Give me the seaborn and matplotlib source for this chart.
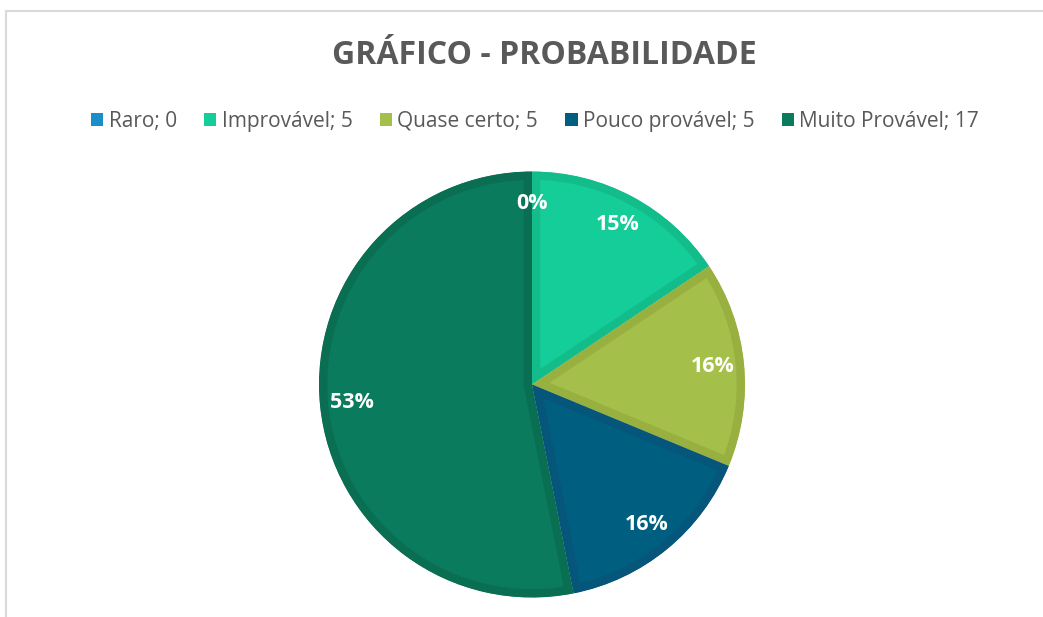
import matplotlib
matplotlib.use("Agg")
import matplotlib.pyplot as plt
import seaborn as sns
from matplotlib.patches import Patch
from matplotlib.lines import Line2D

categories = ["Raro", "Improvável", "Quase certo", "Pouco provável", "Muito Provável"]
values = [0, 5, 5, 5, 17]
pct_labels = ["0%", "15%", "16%", "16%", "53%"]
fill_colors = ["#1A8DCB", "#15CD98", "#A5C04A", "#005E80", "#0B7B5D"]
edge_colors = ["#177FB8", "#12BD8B", "#97B03F", "#06557A", "#0A6E53"]
title = "GRÁFICO - PROBABILIDADE"

sns.set_theme(style="white")
plt.rcParams["font.family"] = ["Open Sans", "DejaVu Sans"]

W, H = 1043, 617
fig = plt.figure(figsize=(W / 100, H / 100), dpi=100)
fig.patch.set_facecolor("white")

cx, cy, r = 532, 384.5, 213
ax = fig.add_axes([(cx - r) / W, (H - cy - r) / H, 2 * r / W, 2 * r / H])

wedges, texts, autotexts = ax.pie(
    values,
    colors=fill_colors,
    startangle=90,
    counterclock=False,
    radius=1.0,
    labels=None,
    autopct=lambda p: "",
    pctdistance=0.85,
    wedgeprops=dict(linewidth=12),
)
for w, ec in zip(wedges, edge_colors):
    w.set_edgecolor(ec)
    w.set_clip_on(True)
    w.set_clip_path(w.get_path(), w.get_transform())
for t, lab in zip(autotexts, pct_labels):
    t.set_text(lab)
    t.set_color("white")
    t.set_fontweight("bold")
    t.set_fontsize(15.5)
    t.set_ha("center")
    t.set_va("center")
ax.set_xlim(-1, 1)
ax.set_ylim(-1, 1)
ax.axis("off")

fig.text(544 / W, 1 - 56 / H, title, ha="center", va="center",
         fontsize=23, fontweight="bold", color="#595959")

handles = [Patch(facecolor=c, edgecolor="none") for c in fill_colors]
leg_labels = [f"{c}; {v}" for c, v in zip(categories, values)]
fig.legend(handles, leg_labels, loc="center", bbox_to_anchor=(535 / W, 1 - 121 / H),
           ncol=5, frameon=False, fontsize=15, labelcolor="#595959",
           handlelength=0.6, handleheight=0.6, handletextpad=0.25,
           columnspacing=1.3)

fig.add_artist(Line2D([5.5 / W, 1.0], [1 - 10.5 / H, 1 - 10.5 / H],
                      transform=fig.transFigure, color="#D9D9D9", linewidth=1.5))
fig.add_artist(Line2D([5.5 / W, 5.5 / W], [1 - 10.5 / H, 0.0],
                      transform=fig.transFigure, color="#D9D9D9", linewidth=1.5))

fig.savefig("out.png", dpi=100, facecolor="white")
